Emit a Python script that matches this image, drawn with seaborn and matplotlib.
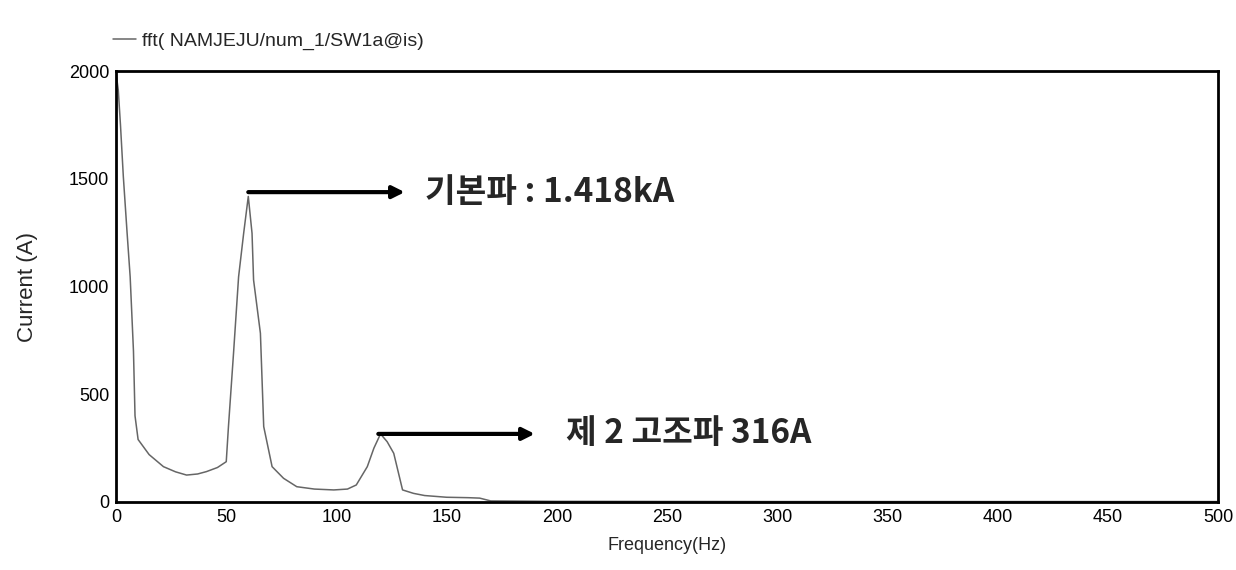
import matplotlib
matplotlib.use("Agg")
import matplotlib.pyplot as plt
import seaborn as sns
import pandas as pd

# spectrum
freq = [0, 1, 2, 3.3, 5, 6.4, 7.9, 8.6, 10, 15, 21.5, 27, 32, 37, 41, 46, 50,
        51, 53.3, 55.6, 57.9, 60, 61.7, 62.4, 65.5, 67, 70.8, 76, 82, 90, 98.8,
        105, 109, 114, 117, 120, 123, 126, 130, 135, 140, 150, 160, 165, 170,
        200, 300, 400, 500]
current = [1990, 1912, 1750, 1510, 1250, 1045, 700, 400, 290, 220, 164, 140,
           125, 130, 141, 160, 187, 350, 690, 1045, 1247, 1418, 1247, 1030, 783,
           350, 164, 110, 71, 60, 56, 60, 79, 164, 250, 316, 280, 226, 56, 40,
           30, 22, 20, 18, 5, 3, 2, 2, 2]

x_ticks = [0, 50, 100, 150, 200, 250, 300, 350, 400, 450, 500]
y_ticks = [0, 500, 1000, 1500, 2000]

fund_f, fund_a, fund_label = 60, 1418, "기본파 : 1.418kA"
harm_f, harm_a, harm_label = 120, 316, "제 2 고조파 316A"

sns.set_style("white")
plt.rcParams['font.family'] = ['Liberation Sans', 'DejaVu Sans']

df = pd.DataFrame({'Frequency': freq, 'Current': current})

fig = plt.figure(figsize=(12.36, 5.7), dpi=100)
ax = fig.add_axes([0.0939, 0.1193, 0.8915, 0.7561])
sns.lineplot(data=df, x='Frequency', y='Current', ax=ax, color='#666666',
             linewidth=1.1, label='fft( NAMJEJU/num_1/SW1a@is)')

ax.set_xlim(0, 500)
ax.set_ylim(0, 2000)
ax.set_xticks(x_ticks)
ax.set_yticks(y_ticks)
ax.tick_params(axis='both', direction='inout', length=6, width=1.5,
               labelsize=13, colors='black', pad=2)
for s in ax.spines.values():
    s.set_linewidth(2)
    s.set_color('black')

ax.set_xlabel('Frequency(Hz)', fontsize=13, labelpad=8)
ax.set_ylabel('Current (A)', fontsize=16, labelpad=22)

leg = ax.legend(loc='lower left', bbox_to_anchor=(-0.01, 1.03), frameon=False,
                fontsize=14, handlelength=1.2, handletextpad=0.3,
                borderaxespad=0)

kr = ['Noto Sans CJK KR', 'DejaVu Sans']
arrow = dict(arrowstyle='-|>', color='black', lw=3, mutation_scale=18,
             shrinkA=0, shrinkB=0)
ax.annotate('', xy=(131, fund_a + 20), xytext=(fund_f, fund_a + 20),
            arrowprops=arrow)
ax.text(140, fund_a + 20, fund_label, family=kr, fontsize=24,
        fontweight='bold', va='center', ha='left')
ax.annotate('', xy=(190, harm_a), xytext=(119, harm_a), arrowprops=arrow)
ax.text(204, harm_a, harm_label, family=kr, fontsize=24,
        fontweight='bold', va='center', ha='left')

fig.savefig('out.png', dpi=100)
